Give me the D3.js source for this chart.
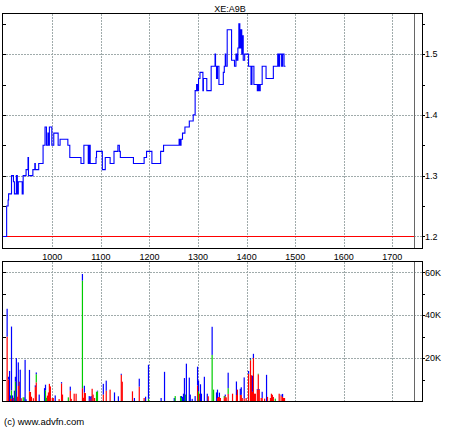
<!DOCTYPE html>
<html>
<head>
<meta charset="utf-8">
<script src="https://cdn.jsdelivr.net/npm/d3@7"></script>
<style>
html,body{margin:0;padding:0;background:#fff;}
svg{display:block;}
text{font-family:"Liberation Sans",Arial,sans-serif;font-size:9px;fill:#000;}
</style>
</head>
<body>
<svg id="chart" width="460" height="430"></svg>
<script>
// ---------- DATA ----------
const title = "XE:A9B";
const copyright = "(c) www.advfn.com";
const xTicks = [1000, 1100, 1200, 1300, 1400, 1500, 1600, 1700];
const priceTicks = [1.2, 1.3, 1.4, 1.5];
const volTicks = [20, 40, 60]; // thousands
const refPrice = 1.20;
const markerX = 1745;

const priceX = [899,903,906,909,910,916,920,922,926,928,930,938,940,946,950,951,960,964,965,972,
  981,985,988,991,993,994,999,1003,1012,1016,1032,1036,1059,1065,1074,1076,1078,1090,1091,1103,
  1109,1119,1127,1135,1138,1140,1167,1189,1194,1205,1223,1229,1261,1263,1265,1268,1273,1282,1290,1294,
  1297,1299,1301,1304,1310,1311,1318,1327,1335,1336,1338,1340,1343,1352,1354,1356,1357,1360,1369,1375,
  1378,1380,1382,1384,1386,1388,1390,1391,1393,1396,1404,1409,1411,1415,1422,1424,1426,1428,1432,1440,
  1455,1464,1466,1468,1472,1474,1477,1480];
const priceY = [1.20,1.20,1.25,1.26,1.27,1.30,1.29,1.27,1.30,1.27,1.29,1.27,1.30,1.31,1.33,1.30,1.31,1.32,1.31,1.32,
  1.35,1.38,1.35,1.37,1.35,1.38,1.35,1.37,1.35,1.36,1.35,1.33,1.32,1.35,1.32,1.35,1.32,1.33,1.34,1.31,
  1.33,1.32,1.34,1.35,1.34,1.33,1.32,1.33,1.34,1.32,1.34,1.35,1.36,1.35,1.36,1.37,1.38,1.39,1.40,1.44,
  1.45,1.44,1.46,1.47,1.44,1.46,1.44,1.48,1.50,1.48,1.46,1.48,1.45,1.47,1.48,1.50,1.48,1.54,1.49,1.48,
  1.50,1.49,1.51,1.55,1.51,1.54,1.50,1.53,1.49,1.50,1.48,1.45,1.48,1.45,1.44,1.45,1.44,1.45,1.48,1.46,
  1.48,1.50,1.48,1.50,1.48,1.50,1.48,1.48];

// volume bars (thousands): stacked red (bottom), green (middle), blue (top)
const volX = [907,910,912,914,916,918,920,922,924,926,928,930,932,934,936,940,942,944,946,953,
  955,957,961,965,967,973,984,986,988,990,992,994,996,1000,1002,1006,1014,1019,1021,1033,
  1037,1039,1045,1049,1062,1064,1066,1068,1076,1078,1080,1082,1084,1087,1091,1093,1105,1111,1119,1128,
  1136,1142,1144,1165,1169,1179,1189,1192,1198,1224,1231,1251,1253,1264,1266,1268,1270,1272,1274,1276,
  1282,1284,1288,1294,1299,1301,1303,1305,1307,1313,1319,1321,1329,1332,1338,1340,1342,1344,1346,1354,
  1356,1358,1362,1371,1379,1381,1387,1389,1391,1395,1399,1404,1408,1410,1412,1414,1416,1418,1422,1424,
  1426,1430,1432,1437,1441,1443,1449,1451,1453,1455,1459,1467,1471,1474,1476,1478];
const volRed = [30,10,0,1,1,0,1.5,0,0,0,2,7,9,0,1.3,0,0,0,0,4.5,
  4.2,2,1.3,6.5,8.7,0,0,0,0,2.5,4,8,6.8,1.4,1.4,0,0.9,8.2,3,0,
  4.8,1,3.4,3.4,6,1.5,4,3.7,0,1,0,5.7,3,1.4,0,0,3,4.8,5.3,0,
  0,12.2,9,4.5,0,6.7,1.4,0,0,0,0,0,0,0,0,0,0,0,0,0,
  0,0,0,0,7.3,0,3.4,0,0,0,0,2.2,0,0,0,1.4,1.9,1.9,1.4,1.4,
  2.2,1.7,3.3,3.4,2.8,5.3,2.8,2.9,1.4,1.1,1.4,12.7,19,12,4.3,20,3.4,3.4,5.3,12.4,
  5.3,1.4,1.4,1.1,0,1.9,1.4,3.4,2.9,1.9,0,3.4,2.5,1.9,1.4,1.4];
const volGreen = [0,0,0,0,4,0,0,0,9,0,0,0,0,0,0,1.7,1.7,0,0,0,
  0,0,0,0,3.8,0,0,5,1.5,0,0,0,0,0,0,0,0,0,0,1.7,
  0,0,0,0,50.1,0,0,0,0,0,0,0,0,0,4.3,4.5,0,0,0,0,
  0,0,0,0,0,0,0,0,1,0,0,0,2.3,2.3,1.4,0,0,0,3,0,
  0,0,0,0,0,4.5,0,0,0,0,0,0,21.5,5.3,0,0,0,0,0,0.9,
  0,0,2.7,0,0,0,0,0,0,0,0,0,0.5,0,0,0,0,0,0,0.3,
  0,0,0,0,0,0,0,0,0,0,1.1,0,0,0,0,0];
const volBlue = [13,1.3,14,1.6,29.7,2.6,0,4.8,2.3,20,0,11,0,14.6,0,0,0,19.2,0.8,10,
  0,0,0,0.8,0.8,3,6,2.6,0,0,0,0,0,0,0,2.6,0,0.6,0,0,
  1.9,0,0,0,3.1,0,3.1,0,2.3,1,2.3,0,0,0,0,0.3,5,4.7,0,4,
  2.2,0.5,0,0,1.4,3.7,0,2,15.9,1.4,13.6,1.4,0,0,0.9,1.9,3.4,10.7,0,17.4,
  10.9,3,1,2.3,8.7,5,0,7.8,3.4,11.3,3.4,0,13.1,0,4,3.9,0,2,0,0,
  0.8,0,7.2,0,6.3,0,2.9,3.5,0,9.9,0,1.3,0.5,0,7.5,2,0,0,0.3,0,
  0.3,0,2.9,0,12.2,0,0,0,0,0,0,0,0.5,1.4,0,0];

// ---------- LAYOUT ----------
const svg = d3.select("#chart");
const L = 3, R = 422;
const top1 = 14, bot1 = 248;
const top2 = 262, bot2 = 401;

const x = d3.scaleLinear().domain([898.5, 1761]).range([L, R]);
const yP = d3.scaleLinear().domain([1.181, 1.566]).range([bot1, top1]);
const yV = d3.scaleLinear().domain([0, 64.8]).range([bot2, top2]);

const gridColor = "#a0abab";

function panel(yScale, top, bot, gridVals, minorVals, fmt) {
  const g = svg.append("g");
  g.selectAll(".vg").data(xTicks).enter().append("line")
    .attr("x1", d => Math.round(x(d)) + 0.5).attr("x2", d => Math.round(x(d)) + 0.5)
    .attr("y1", top).attr("y2", bot)
    .attr("stroke", gridColor).attr("stroke-width", 1).attr("stroke-dasharray", "2,1");
  g.selectAll(".hg").data(gridVals).enter().append("line")
    .attr("x1", L).attr("x2", R)
    .attr("y1", d => Math.round(yScale(d)) + 0.5).attr("y2", d => Math.round(yScale(d)) + 0.5)
    .attr("stroke", gridColor).attr("stroke-width", 1).attr("stroke-dasharray", "2,1");
  g.append("line")
    .attr("x1", Math.round(x(markerX)) + 0.5).attr("x2", Math.round(x(markerX)) + 0.5)
    .attr("y1", top).attr("y2", bot)
    .attr("stroke", "#666").attr("stroke-width", 1);
  const allT = gridVals.concat(minorVals);
  g.selectAll(".tl").data(allT).enter().append("line")
    .attr("x1", L).attr("x2", L + 3)
    .attr("y1", d => Math.round(yScale(d)) + 0.5).attr("y2", d => Math.round(yScale(d)) + 0.5)
    .attr("stroke", "#000");
  g.selectAll(".tr").data(allT).enter().append("line")
    .attr("x1", R).attr("x2", R + 3)
    .attr("y1", d => Math.round(yScale(d)) + 0.5).attr("y2", d => Math.round(yScale(d)) + 0.5)
    .attr("stroke", "#000");
  g.selectAll(".yl").data(gridVals).enter().append("text")
    .attr("x", R + 3).attr("y", d => yScale(d) + 3.3)
    .text(fmt);
  return g;
}

// top panel
const g1 = panel(yP, top1, bot1, priceTicks, [1.25, 1.35, 1.45, 1.55], d => d.toFixed(1));
g1.append("line")
  .attr("x1", L).attr("x2", x(markerX))
  .attr("y1", Math.round(yP(refPrice)) + 0.5).attr("y2", Math.round(yP(refPrice)) + 0.5)
  .attr("stroke", "#ff0000").attr("stroke-width", 1);
const pts = priceX.map((d, i) => [d, priceY[i]]);
g1.append("path")
  .datum(pts)
  .attr("d", d3.line().x(d => x(d[0])).y(d => yP(d[1])).curve(d3.curveStepAfter))
  .attr("fill", "none").attr("stroke", "#0000ff").attr("stroke-width", 1.1);
svg.append("rect").attr("x", L - 0.5).attr("y", top1 - 0.5)
  .attr("width", R - L + 1).attr("height", bot1 - top1 + 1)
  .attr("fill", "none").attr("stroke", "#000").attr("stroke-width", 1);

svg.append("text").attr("x", 230).attr("y", 11.5).attr("text-anchor", "middle").text(title);

svg.selectAll(".xl").data(xTicks).enter().append("text")
  .attr("x", d => x(d)).attr("y", 260).attr("text-anchor", "middle").text(d => d);

// bottom panel
const g2 = panel(yV, top2, bot2, volTicks, [10, 30, 50], d => d + "K");
const vols = volX.map((d, i) => ({x: d, r: volRed[i], g: volGreen[i], b: volBlue[i]}));
const segs = [];
vols.forEach(v => {
  segs.push({x: v.x, y0: 0, y1: v.r, c: "#ff0000"});
  segs.push({x: v.x, y0: v.r, y1: v.r + v.g, c: "#00cc00"});
  segs.push({x: v.x, y0: v.r + v.g, y1: v.r + v.g + v.b, c: "#0000ff"});
});
g2.selectAll(".bar").data(segs.filter(s => s.y1 > s.y0)).enter().append("rect")
  .attr("x", d => x(d.x) - 0.6)
  .attr("width", 1.2)
  .attr("y", d => yV(d.y1))
  .attr("height", d => yV(d.y0) - yV(d.y1))
  .attr("fill", d => d.c);
svg.append("rect").attr("x", L - 0.5).attr("y", top2 - 0.5)
  .attr("width", R - L + 1).attr("height", bot2 - top2 + 1)
  .attr("fill", "none").attr("stroke", "#000").attr("stroke-width", 1);

svg.append("text").attr("x", 4).attr("y", 425).style("font-size", "9.5px").text(copyright);
</script>
</body>
</html>
